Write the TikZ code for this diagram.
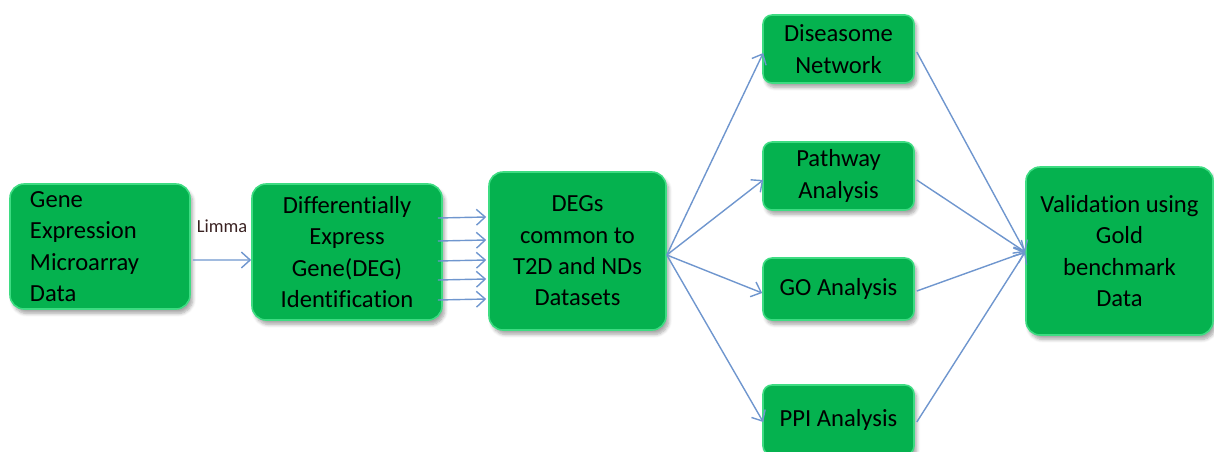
\documentclass[tikz,border=0pt]{standalone}
\usepackage{fontspec}
\setmainfont[RawFeature=-liga]{Carlito}
\usetikzlibrary{arrows.meta,calc,shadows.blur}

\definecolor{boxgreen}{HTML}{05B24F}
\definecolor{boxedge}{HTML}{3EDC82}
\definecolor{flow}{HTML}{6F96CE}
\definecolor{labelink}{HTML}{3A2222}

\begin{document}
\begin{tikzpicture}[x=0.02cm,y=-0.02cm,
  stage/.style={rectangle, rounded corners=14*0.02cm, fill=boxgreen, draw=boxedge,
    line width=0.9pt, blur shadow={shadow xshift=1.5pt, shadow yshift=-2.5pt,
    shadow opacity=35, shadow blur steps=6},
    font=\fontsize{14}{17.8}\selectfont, text=black, align=center, inner sep=0pt},
  smallstage/.style={stage, rounded corners=9*0.02cm},
  flowarrow/.style={draw=flow, line width=0.8pt,
    -{Straight Barb[length=5pt,width=9pt,line width=0.8pt]}}
]
\useasboundingbox (0,0) rectangle (1214,451);

% main pipeline
\node[stage, minimum width=180*0.02cm, minimum height=125*0.02cm,
      text width=140*0.02cm, align=left] (gene) at (100,246.5)
  {Gene\\Expression\\Microarray\\Data};
\node[stage, minimum width=190*0.02cm, minimum height=136*0.02cm] (deg) at (347,252)
  {Differentially\\Express\\Gene(DEG)\\Identification};
\node[stage, minimum width=177*0.02cm, minimum height=158*0.02cm] (degs) at (577.5,251)
  {DEGs\\common to\\T2D and NDs\\Datasets};

% analyses
\node[smallstage, minimum width=151*0.02cm, minimum height=68*0.02cm] (dis) at (838.5,49)
  {Diseasome\\Network};
\node[smallstage, minimum width=151*0.02cm, minimum height=68*0.02cm] (path) at (838.5,176)
  {Pathway\\Analysis};
\node[smallstage, minimum width=151*0.02cm, minimum height=62*0.02cm] (go) at (838.5,289)
  {GO Analysis};
\node[smallstage, minimum width=151*0.02cm, minimum height=70*0.02cm] (ppi) at (838.5,420)
  {PPI Analysis};

% validation
\node[stage, minimum width=187*0.02cm, minimum height=168*0.02cm] (val) at (1119.5,251)
  {Validation using\\Gold\\benchmark\\Data};

% connectors
\draw[flowarrow] ($(gene.east)+(2,13.5)$) -- node[above=12pt, font=\fontsize{10.5}{12}\selectfont, text=labelink] {Limma} ($(deg.west)+(0,8)$);

\foreach \dy in {-34,-11,9,28,48}
  \draw[flowarrow] ($(deg.east)+(-5,\dy)$) -- ($(degs.west)+(-2,\dy)$);

\coordinate (fan) at ($(degs.east)+(0,4)$);
\draw[flowarrow] (fan) -- ($(dis.west)+(1,4)$);
\draw[flowarrow] (fan) -- ($(path.west)+(1,4)$);
\draw[flowarrow] (fan) -- ($(go.west)+(0,4)$);
\draw[flowarrow] (fan) -- ($(ppi.west)+(1,2)$);

\coordinate (join) at ($(val.west)+(0,1)$);
\draw[flowarrow] ($(dis.east)+(2,3)$) -- (join);
\draw[flowarrow] ($(path.east)+(2,4)$) -- (join);
\draw[flowarrow] ($(go.east)+(2,2)$) -- (join);
\draw[flowarrow] ($(ppi.east)+(2,2)$) -- (join);
\end{tikzpicture}
\end{document}
